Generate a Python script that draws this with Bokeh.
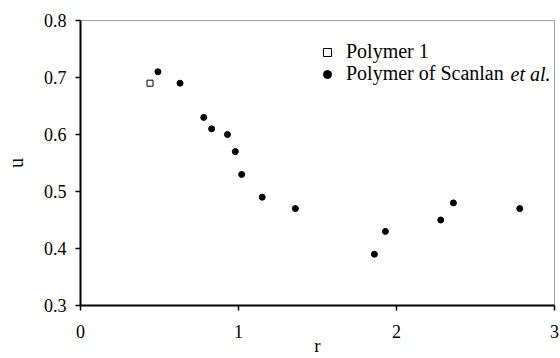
from bokeh.plotting import figure
from bokeh.models import Legend, LegendItem, Label, FixedTicker, Range1d, NumeralTickFormatter
from bokeh.embed import file_html
from bokeh.resources import INLINE

# Polymer 1
p1_r = [0.44]
p1_u = [0.69]

# Polymer of Scanlan et al.
sc_r = [0.49, 0.63, 0.78, 0.83, 0.93, 0.98, 1.02, 1.15, 1.36, 1.86, 1.93, 2.28, 2.36, 2.78]
sc_u = [0.71, 0.69, 0.63, 0.61, 0.60, 0.57, 0.53, 0.49, 0.47, 0.39, 0.43, 0.45, 0.48, 0.47]

x_ticks = [0, 1, 2, 3]
y_ticks = [0.3, 0.4, 0.5, 0.6, 0.7, 0.8]

FONT = "Liberation Serif"

p = figure(width=560, height=358, output_backend="svg", toolbar_location=None,
           x_range=Range1d(0, 3), y_range=Range1d(0.3, 0.8),
           min_border_left=80, min_border_right=6, min_border_top=20, min_border_bottom=53)

p.background_fill_color = "white"
p.border_fill_color = "white"
p.outline_line_color = "#a0a0a0"
p.outline_line_width = 1
p.xgrid.visible = False
p.ygrid.visible = False

for ax in (p.xaxis[0], p.yaxis[0]):
    ax.axis_line_color = "black"
    ax.axis_line_width = 2
    ax.major_tick_line_color = "black"
    ax.major_tick_line_width = 1.5
    ax.major_tick_in = 0
    ax.major_tick_out = 5
    ax.minor_tick_line_color = None
    ax.major_label_text_font = FONT
    ax.major_label_text_font_size = "18px"
    ax.major_label_text_font_style = "normal"
    ax.major_label_text_color = "black"
    ax.axis_label_text_font = FONT
    ax.axis_label_text_font_size = "20px"
    ax.axis_label_text_font_style = "normal"
    ax.axis_label_text_color = "black"

p.xaxis.ticker = FixedTicker(ticks=x_ticks)
p.yaxis.ticker = FixedTicker(ticks=y_ticks)
p.yaxis.formatter = NumeralTickFormatter(format="0.0")
p.xaxis.axis_label = "r"
p.yaxis.axis_label = "u"
p.xaxis.major_label_text_line_height = 1.0
p.xaxis.axis_label_text_line_height = 1.0
p.xaxis.axis_label_text_font_size = "19px"
p.xaxis.major_label_standoff = 14
p.yaxis.major_label_standoff = 9
p.xaxis.axis_label_standoff = -6
p.yaxis.axis_label_standoff = 14

sq = p.scatter(p1_r, p1_u, marker="square", size=6, fill_color="white",
               line_color="black", line_width=1)
dots = p.scatter(sc_r, sc_u, marker="circle", size=6, fill_color="black",
                 line_color="black")

# one legend box per row so the row pitch can be set freely
legend_style = dict(padding=0, spacing=0, margin=0,
                    glyph_width=20, glyph_height=20, label_height=20,
                    label_standoff=9, border_line_color=None,
                    background_fill_alpha=0,
                    label_text_font=FONT, label_text_font_size="20px",
                    label_text_font_style="normal", label_text_color="black")
leg1 = Legend(items=[LegendItem(label="Polymer 1", renderers=[sq])],
              location=(237, 242), **legend_style)
leg2 = Legend(items=[LegendItem(label="Polymer of Scanlan", renderers=[dots])],
              location=(237, 220), **legend_style)
p.add_layout(leg1)
p.add_layout(leg2)

etal = Label(x=430, y=232, x_units="screen", y_units="screen", text="et al.",
             text_font=FONT, text_font_size="20px", text_font_style="italic",
             text_color="black", text_baseline="middle")
p.add_layout(etal)

open("out.html", "w").write(file_html(p, INLINE))
